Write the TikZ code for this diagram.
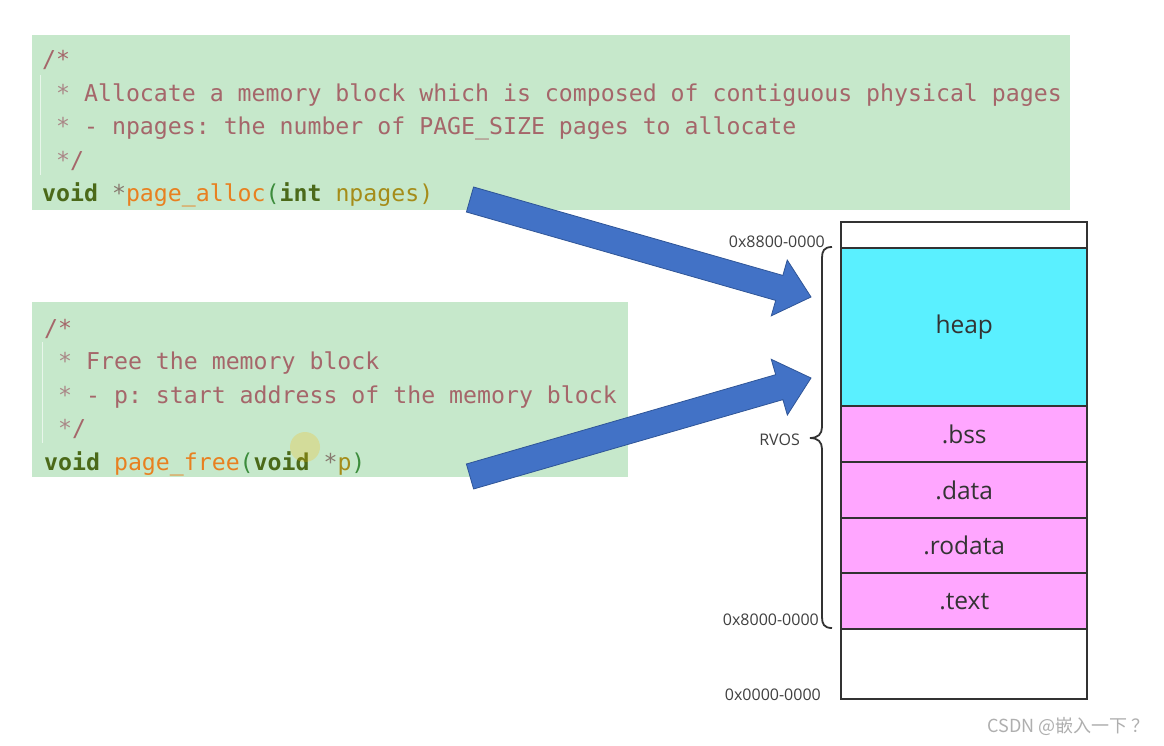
\documentclass[tikz,border=0pt]{standalone}
\usepackage{fontspec}
\setmainfont{Open Sans}
\newfontfamily\codefont{DejaVu Sans Mono}
\newfontfamily\cjk{Noto Sans CJK SC}
\usetikzlibrary{calc}
\frenchspacing
\definecolor{codebg}{RGB}{198,232,203}
\definecolor{cmt}{RGB}{165,102,106}
\definecolor{cmtstar}{RGB}{170,135,135}
\definecolor{kw}{RGB}{75,105,25}
\definecolor{fn}{RGB}{232,128,32}
\definecolor{paren}{RGB}{60,140,60}
\definecolor{param}{RGB}{165,140,25}
\definecolor{ptr}{RGB}{135,120,110}
\definecolor{heapc}{RGB}{90,240,255}
\definecolor{secc}{RGB}{255,166,255}
\definecolor{memline}{RGB}{50,50,50}
\definecolor{arrowfill}{RGB}{66,114,198}
\definecolor{arrowdraw}{RGB}{47,85,151}
\definecolor{wm}{RGB}{175,175,175}
\newcommand\kwd[1]{\textcolor{kw}{\bfseries #1}}
\newcommand\fnn[1]{\textcolor{fn}{#1}}
\newcommand\prn[1]{\textcolor{paren}{#1}}
\newcommand\prm[1]{\textcolor{param}{#1}}
\newcommand\ptrs[1]{\textcolor{ptr}{#1}}
\tikzset{
  codebox/.style={fill=codebg, draw=none, inner sep=0pt, anchor=north west},
  codeline/.style={anchor=base west, inner sep=0pt, text=cmt,
    font=\codefont\fontsize{23.2}{28}\selectfont},
  memblock/.style={draw=memline, line width=2.4pt, inner sep=0pt,
    minimum width=246pt, anchor=north west, font=\fontsize{24.5}{28}\selectfont, text=black!80},
  addr/.style={anchor=east, inner sep=0pt, text=black!75, font=\fontsize{16}{18}\selectfont},
  fatarrow/.style={fill=arrowfill, draw=arrowdraw, line width=0.8pt, line join=miter},
  bracestyle/.style={draw=memline, line width=1.8pt}
}
\begin{document}
\begin{tikzpicture}[x=1pt,y=-1pt]
\useasboundingbox[fill=white] (0,0) rectangle (1164,746);

% code boxes
\node[codebox, minimum width=1038pt, minimum height=175pt] (code1) at (32,35) {};
\node[codebox, minimum width=596pt, minimum height=175pt] (code2) at (32,302) {};
\draw[white!60!codebg, line width=1pt] (40,75) -- (40,175);
\draw[white!60!codebg, line width=1pt] (42,342) -- (42,443);

\node[codeline] (c1l1) at (42,68) {/*};
\node[codeline] (c1l2) at (42,101.5) {~\textcolor{cmtstar}{*} Allocate a memory block which is composed of contiguous physical pages};
\node[codeline] (c1l3) at (42,135) {~\textcolor{cmtstar}{*} - npages: the number of PAGE\_SIZE pages to allocate};
\node[codeline] (c1l4) at (42,168.5) {~\textcolor{cmtstar}{*}/};
\node[codeline] (c1l5) at (42,202) {\kwd{void} \ptrs{*}\fnn{page\_alloc}\prn{(}\kwd{int} \prm{npages}\prm{)}};

\node[codeline] (c2l1) at (44,336) {/*};
\node[codeline] (c2l2) at (44,369.5) {~\textcolor{cmtstar}{*} Free the memory block};
\node[codeline] (c2l3) at (44,403) {~\textcolor{cmtstar}{*} - p: start address of the memory block};
\node[codeline] (c2l4) at (44,436.5) {~\textcolor{cmtstar}{*}/};
\node[codeline] (c2l5) at (44,470) {\kwd{void} \fnn{page\_free}\prn{(}\kwd{void} \ptrs{*}\prm{p}\prn{)}};

% cursor highlight
\fill[yellow!50!orange, opacity=0.25] (305,447) circle (15pt);

% memory map
\node[memblock, fill=white, minimum height=26pt] (memtop) at (840,221) {};
\node[memblock, fill=heapc, minimum height=158pt] (heap) at (840,247) {heap};
\node[memblock, fill=secc, minimum height=56pt] (bss) at (840,405) {.bss};
\node[memblock, fill=secc, minimum height=56pt] (data) at (840,461) {.data};
\node[memblock, fill=secc, minimum height=55pt] (rodata) at (840,517) {.rodata};
\node[memblock, fill=secc, minimum height=56pt] (text) at (840,572) {\raisebox{-3pt}{.text}};
\node[memblock, fill=white, minimum height=70pt] (membot) at (840,628) {};

% brace
\draw[bracestyle] (832,247) .. controls (824,247) and (822,251) .. (822,258)
  -- (822,427) .. controls (822,434) and (818,438) .. (810,438)
  .. controls (818,438) and (822,442) .. (822,449)
  -- (822,617) .. controls (822,624) and (824,628) .. (832,628);

\node[addr] (a88) at (825,242) {0x8800-0000};
\node[addr] (rvos) at (800,440) {RVOS};
\node[addr] (a80) at (819,620) {0x8000-0000};
\node[addr] (a00) at (821,695) {0x0000-0000};

% fat arrows
\coordinate (s1) at (470,199.5);
\coordinate (t1) at (811,297);
\coordinate (s2) at (470,476.5);
\coordinate (t2) at (811,378);
\coordinate (h1) at ($(t1)!33pt!(s1)$);
\coordinate (h2) at ($(t2)!33pt!(s2)$);
\draw[fatarrow] ($(s1)!13pt!90:(t1)$) -- ($(h1)!13pt!90:(t1)$) -- ($(h1)!29pt!90:(t1)$)
  -- (t1) -- ($(h1)!29pt!-90:(t1)$) -- ($(h1)!13pt!-90:(t1)$) -- ($(s1)!13pt!-90:(t1)$) -- cycle;
\draw[fatarrow] ($(s2)!13pt!90:(t2)$) -- ($(h2)!13pt!90:(t2)$) -- ($(h2)!29pt!90:(t2)$)
  -- (t2) -- ($(h2)!29pt!-90:(t2)$) -- ($(h2)!13pt!-90:(t2)$) -- ($(s2)!13pt!-90:(t2)$) -- cycle;

% watermark
\node[anchor=east, inner sep=0pt, text=wm, font=\cjk\fontsize{18}{22}\selectfont] (wmk) at (1150,726) {CSDN @嵌入一下~？};
\end{tikzpicture}
\end{document}
